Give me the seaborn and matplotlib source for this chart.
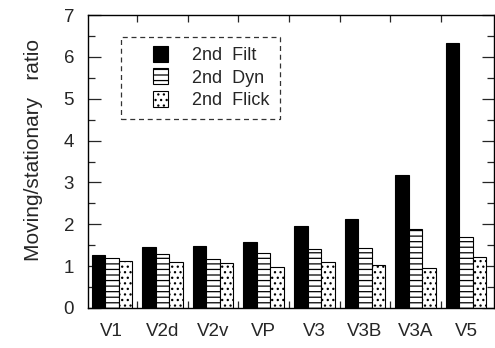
import matplotlib
matplotlib.use("Agg")
import matplotlib.pyplot as plt
import seaborn as sns
import pandas as pd
import numpy as np
from matplotlib.ticker import MultipleLocator, FixedLocator
from matplotlib.patches import Rectangle
from matplotlib.legend_handler import HandlerPatch

areas = ["V1", "V2d", "V2v", "VP", "V3", "V3B", "V3A", "V5"]
filt = [1.27, 1.46, 1.48, 1.58, 1.96, 2.13, 3.18, 6.34]
dyn = [1.20, 1.29, 1.17, 1.31, 1.41, 1.43, 1.89, 1.70]
flick = [1.12, 1.10, 1.07, 0.98, 1.10, 1.03, 0.96, 1.23]
series = ["2nd  Filt", "2nd  Dyn", "2nd  Flick"]

df = pd.DataFrame({
    "area": areas * 3,
    "ratio": filt + dyn + flick,
    "cond": [series[0]] * 8 + [series[1]] * 8 + [series[2]] * 8,
})

sns.set_style("ticks")
plt.rcParams['font.family'] = ['Liberation Sans', 'DejaVu Sans']
plt.rcParams['hatch.linewidth'] = 0.9
plt.rcParams['hatch.color'] = 'black'

fig = plt.figure(figsize=(4.95, 3.48), dpi=100)
ax = fig.add_axes([88/495, 1 - 308/348, 406/495, 293/348])

sns.barplot(data=df, x="area", y="ratio", hue="cond", order=areas, hue_order=series,
            palette=["black", "white", "white"], edgecolor="black", linewidth=0.8,
            width=0.8, ax=ax, legend=True)

hatches = [None, "---", "..."]
for cont, h in zip(ax.containers, hatches):
    for bar in cont:
        if h:
            bar.set_hatch(h)

ax.set_ylim(0, 7)
ax.set_xlim(-0.47, 7.55)
ax.yaxis.set_major_locator(MultipleLocator(1))
ax.yaxis.set_minor_locator(MultipleLocator(0.5))
ax.xaxis.set_minor_locator(FixedLocator(np.arange(0.5, 7, 1)))
ax.tick_params(axis='y', which='major', direction='in', length=9, width=0.9,
               left=True, right=True, labelsize=13.5, pad=10)
ax.tick_params(axis='y', which='minor', direction='in', length=5, width=0.9,
               left=True, right=True)
ax.tick_params(axis='x', which='major', length=0, labelsize=13.5, pad=11)
ax.tick_params(axis='x', which='minor', direction='in', length=5, width=0.9,
               top=True, bottom=True)
for s in ax.spines.values():
    s.set_visible(True)
    s.set_linewidth(1.0)
    s.set_color('black')

ax.set_xlabel("")
ax.set_ylabel("Moving/stationary   ratio", fontsize=15)
ax.yaxis.set_label_coords(-0.11, 0.54)


def right_patch(legend, orig_handle, xdescent, ydescent, width, height, fontsize):
    w = 15 / 100 * 72  # points
    return Rectangle((-xdescent + width - w, -ydescent - 1), w, height + 2)


handles, labels = ax.get_legend_handles_labels()
leg = ax.legend(handles, labels, loc="upper left", bbox_to_anchor=(0.081, 0.925),
                fontsize=13, frameon=True, fancybox=False, handlelength=2.05,
                handleheight=0.75, handletextpad=1.35, borderpad=0.55,
                labelspacing=0.32, borderaxespad=0,
                handler_map={h: HandlerPatch(patch_func=right_patch) for h in handles})
fr = leg.get_frame()
fr.set_linestyle((0, (4, 3)))
fr.set_edgecolor("black")
fr.set_linewidth(0.9)
for p, h in zip(leg.get_patches(), hatches):
    p.set_edgecolor("black")
    p.set_linewidth(0.8)
    if h:
        p.set_hatch(h)

fig.savefig("out.png", dpi=100)
